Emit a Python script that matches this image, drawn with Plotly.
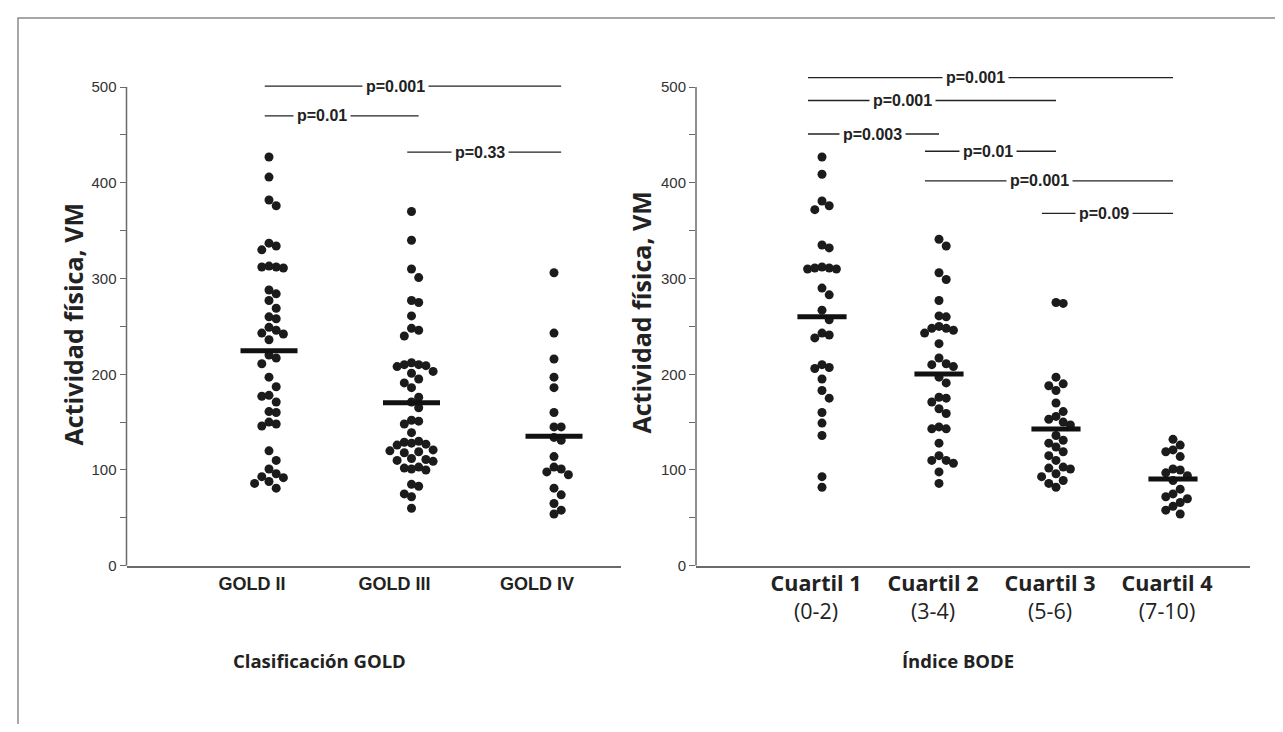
import numpy as np
import plotly.graph_objects as go

# ---------------- data ----------------
gold_labels = ["GOLD II", "GOLD III", "GOLD IV"]
gold_ii = [427, 406, 382, 376, 337, 334, 330, 313, 312, 312, 311, 288, 284, 277, 269,
           260, 258, 249, 246, 243, 242, 236, 220, 217, 211, 197, 187, 178, 177, 171,
           161, 160, 150, 148, 146, 120, 110, 101, 96, 93, 92, 88, 86, 81]
gold_iii = [370, 340, 310, 301, 277, 275, 261, 248, 246, 240,
            212, 210, 210, 209, 208, 203, 201, 195, 191, 186, 176, 171, 165,
            152, 151, 148, 139,
            130, 129, 128, 127, 126, 121, 120, 119, 118, 112, 111, 110, 109,
            103, 102, 101, 100,
            85, 83, 75, 72, 60]
gold_iv = [306, 243, 216, 197, 186, 160, 145, 145, 134, 131, 114, 103, 101, 98, 95,
           81, 74, 65, 58, 54]

bode_names = ["Cuartil 1", "Cuartil 2", "Cuartil 3", "Cuartil 4"]
bode_ranges = ["(0-2)", "(3-4)", "(5-6)", "(7-10)"]
q1 = [427, 409, 381, 376, 372, 335, 332, 312, 311, 311, 310, 310, 290, 283, 267,
      257, 243, 241, 238, 210, 207, 206, 195, 183, 175, 160, 149, 136, 93, 82]
q2 = [341, 334, 306, 299, 277, 261, 260, 250, 248, 248, 246, 243, 232, 217, 211,
      210, 208, 197, 191, 176, 175, 171, 164, 159, 145, 143, 143, 128, 115, 110,
      110, 107, 98, 86]
q3 = [275, 274, 197, 190, 188, 183, 170, 161, 156, 153, 150, 147, 136, 131, 128,
      124, 119, 115, 110, 103, 102, 101, 96, 93, 89, 86, 82]
q4 = [132, 126, 121, 119, 114, 101, 100, 97, 94, 89, 80, 75, 72, 70, 66, 62, 58, 54]

# comparisons: (group a, group b, label, height in VM units)
gold_comparisons = [(0, 2, "p=0.001", 501), (0, 1, "p=0.01", 470), (1, 2, "p=0.33", 432)]
bode_comparisons = [(0, 3, "p=0.001", 510), (0, 2, "p=0.001", 486), (0, 1, "p=0.003", 451),
                    (1, 2, "p=0.01", 433), (1, 3, "p=0.001", 402), (2, 3, "p=0.09", 368)]

y_ticks = [0, 50, 100, 150, 200, 250, 300, 350, 400, 450, 500]
y_tick_text = ["0", "", "100", "", "200", "", "300", "", "400", "", "500"]

y_title = "Actividad física, VM"
x_title_left = "Clasificación GOLD"
x_title_right = "Índice BODE"

# ---------------- layout geometry (reference pixels) ----------------
OFF = 8                      # page body margin
W, H = 1283 - 2 * OFF, 732 - 2 * OFF
TOP500_PX, Y0_PX = 88.0, 572.0
PX_PER_UNIT = (Y0_PX - TOP500_PX) / 500.0
YMAX = 525
L_AX = (126.5, 621.0)
R_AX = (696.0, 1250.0)
L_C0, L_STEP = 269.0, 142.5
R_C0, R_STEP = 822.0, 117.0

SANS = "Liberation Sans, Arial, sans-serif"
HUMAN = "Open Sans, Lato, sans-serif"
DOT = "#1b1b1b"
AXC = "#6a6a6a"
TXT = "#222222"


def px_x(p):
    return (p - OFF) / W


def px_y(p):
    return 1 - (p - OFF) / H


def swarm(vals, xstep_px, sx=7.2, sy=10.0):
    """Simple grid beeswarm: offsets in category units."""
    vals = np.asarray(vals, float)
    order = np.argsort(-vals, kind="stable")
    placed = []
    offs = np.zeros(len(vals))
    ks = [0]
    for k in range(1, 20):
        ks += [k, -k]
    for idx in order:
        y = vals[idx] * PX_PER_UNIT
        for k in ks:
            x = k * sx
            if all(((x - px) / sx) ** 2 + ((y - py) / sy) ** 2 >= 1 - 1e-6
                   for px, py in placed):
                placed.append((x, y))
                offs[idx] = x / xstep_px
                break
    return offs


fig = go.Figure()

panels = [
    dict(groups=[gold_ii, gold_iii, gold_iv], xa="x", ya="y", step=L_STEP, hw=0.2),
    dict(groups=[q1, q2, q3, q4], xa="x2", ya="y2", step=R_STEP, hw=0.21),
]
for pan in panels:
    for i, g in enumerate(pan["groups"]):
        offs = swarm(g, pan["step"])
        fig.add_trace(go.Scatter(
            x=i + offs, y=g, mode="markers", xaxis=pan["xa"], yaxis=pan["ya"],
            marker=dict(size=9, color=DOT, line=dict(width=0)),
            showlegend=False, hoverinfo="y"))
        m = float(np.mean(g))
        fig.add_shape(type="line", xref=pan["xa"], yref=pan["ya"],
                      x0=i - pan["hw"], x1=i + pan["hw"], y0=m, y1=m,
                      line=dict(color="#111111", width=5))
    # y axis line from 0 to 500
    fig.add_shape(type="line", xref=pan["xa"] + " domain", yref=pan["ya"],
                  x0=0, x1=0, y0=0, y1=500, line=dict(color=AXC, width=1.5))

# comparison brackets
gold_label_at = [0.44, 0.37, 0.47]
bode_label_at = [0.46, 0.38, 0.49, 0.48, 0.46, 0.47]
for comps, label_at, xa, ya, lo, hi in [
        (gold_comparisons, gold_label_at, "x", "y", -0.03, 0.05),
        (bode_comparisons, bode_label_at, "x2", "y2", -0.12, 0.0)]:
    for (a, b, lab, yv), f in zip(comps, label_at):
        x0, x1 = a + lo, b + hi
        fig.add_shape(type="line", xref=xa, yref=ya, x0=x0, x1=x1, y0=yv, y1=yv,
                      line=dict(color="#222222", width=1.3))
        fig.add_annotation(xref=xa, yref=ya, x=x0 + f * (x1 - x0), y=yv,
                           text=f"<b>{lab}</b>",
                           showarrow=False, bgcolor="white", borderpad=3,
                           font=dict(family=SANS, size=16, color=TXT))

ax_common = dict(showgrid=False, zeroline=False)
yax = dict(range=[0, YMAX], tickmode="array", tickvals=y_ticks, ticktext=y_tick_text,
           ticks="outside", ticklen=6, tickwidth=1, tickcolor=AXC, showline=False,
           tickfont=dict(family=SANS, size=15, color="#333333"),
           domain=[px_y(Y0_PX), px_y(Y0_PX - YMAX * PX_PER_UNIT)], **ax_common)

fig.update_layout(
    width=W, height=H, margin=dict(l=0, r=0, t=0, b=0),
    paper_bgcolor="white", plot_bgcolor="white", showlegend=False,
    xaxis=dict(domain=[px_x(L_AX[0]), px_x(L_AX[1])],
               range=[(L_AX[0] - L_C0) / L_STEP, (L_AX[1] - L_C0) / L_STEP],
               tickmode="array", tickvals=list(range(len(gold_labels))),
               ticktext=[f"<b>{t}</b>" for t in gold_labels],
               ticks="", showline=True, linecolor=AXC, linewidth=1.5, anchor="y",
               ticklabelshift=-17, ticklabelstandoff=1,
               tickfont=dict(family=SANS, size=18, color=TXT),
               **ax_common),
    yaxis=dict(anchor="x", **yax),
    xaxis2=dict(domain=[px_x(R_AX[0]), px_x(R_AX[1])],
                range=[(R_AX[0] - R_C0) / R_STEP, (R_AX[1] - R_C0) / R_STEP],
                tickmode="array", tickvals=list(range(len(bode_names))),
                ticktext=[f"<b>{n}</b><br>{r}" for n, r in zip(bode_names, bode_ranges)],
                ticks="", showline=True, linecolor=AXC, linewidth=1.5, anchor="y2",
                ticklabelstandoff=-2, ticklabelshift=-6,
                tickfont=dict(family=HUMAN, size=21.5, color=TXT),
                **ax_common),
    yaxis2=dict(anchor="x2", **yax),
)

# axis titles
for txt, x, y, ang, sz in [(y_title, 73, 328, -90, 25), (y_title, 641, 316, -90, 25),
                           (x_title_left, 319, 668, 0, 18.5), (x_title_right, 958, 668, 0, 18.5)]:
    fig.add_annotation(xref="paper", yref="paper", x=px_x(x), y=px_y(y), text=f"<b>{txt}</b>",
                       textangle=ang, showarrow=False, xanchor="center", yanchor="middle",
                       font=dict(family=HUMAN, size=sz, color=TXT))

# outer frame
fig.add_shape(type="rect", xref="paper", yref="paper", x0=px_x(18), x1=px_x(1320),
              y0=px_y(780), y1=px_y(18), line=dict(color="#8a8a8a", width=1.5),
              fillcolor="rgba(0,0,0,0)", layer="below")

fig.write_html("out.html")
